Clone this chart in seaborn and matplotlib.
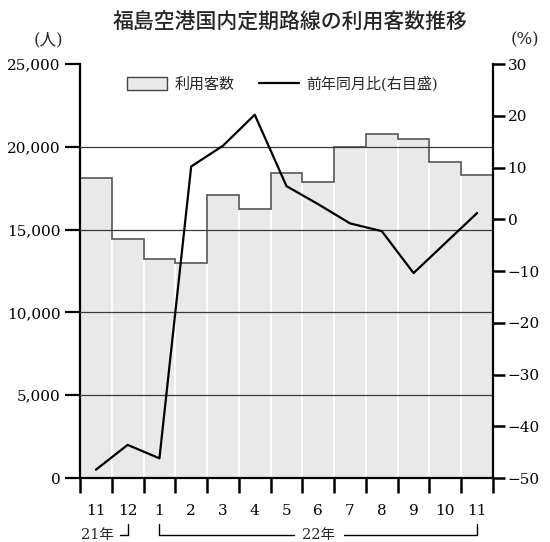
import numpy as np
import pandas as pd
import matplotlib
matplotlib.use('Agg')
import matplotlib.pyplot as plt
import seaborn as sns
from matplotlib.patches import Patch
from matplotlib.lines import Line2D

# data
periods = ['2021-11', '2021-12', '2022-01', '2022-02', '2022-03', '2022-04', '2022-05',
           '2022-06', '2022-07', '2022-08', '2022-09', '2022-10', '2022-11']
month_labels = ['11', '12', '1', '2', '3', '4', '5', '6', '7', '8', '9', '10', '11']
passengers = [18100, 14450, 13200, 13000, 17100, 16250, 18400, 17900, 20000, 20750, 20450, 19100, 18300]
yoy_pct = [-48.4, -43.6, -46.2, 10.2, 14.2, 20.2, 6.4, 2.9, -0.8, -2.3, -10.4, -4.6, 1.2]

left_ticks = [0, 5000, 10000, 15000, 20000, 25000]
right_ticks = [-50, -40, -30, -20, -10, 0, 10, 20, 30]

df = pd.DataFrame({'period': periods, 'passengers': passengers, 'yoy': yoy_pct})
df['pos'] = np.arange(len(df))

sns.set_theme(style='white')
plt.rcParams['font.family'] = ['DejaVu Serif', 'Noto Sans CJK JP']
plt.rcParams['axes.unicode_minus'] = True

fig = plt.figure(figsize=(5.5, 5.42), dpi=100)
ax = fig.add_axes([80 / 550, 1 - 478 / 542, 413 / 550, 414 / 542])

# bars: light grey with white separators, grey step outline on top
sns.barplot(data=df, x='period', y='passengers', order=periods, color='#e9e9e9',
            saturation=1, width=1, edgecolor='white', linewidth=1.2, ax=ax, zorder=1)
ax.stairs(df['passengers'], np.arange(len(df) + 1) - 0.5, baseline=None,
          color='#555555', lw=1.2, zorder=2.5)

for v in left_ticks[1:-1]:
    ax.axhline(v, color='#3a3a3a', lw=0.9, zorder=3)

ax.set_xlim(-0.5, len(df) - 0.5)
ax.set_ylim(0, 25000)
ax.set_yticks(left_ticks)
ax.set_yticklabels([f'{v:,}' for v in left_ticks])
ax.set_xticks(df['pos'])
ax.set_xticklabels(month_labels)
ax.set_xticks(np.arange(len(df) + 1) - 0.5, minor=True)
ax.set_xlabel('')
ax.set_ylabel('')
ax.tick_params(axis='y', length=11, width=1.6, direction='out', pad=3,
               labelsize=11, colors='black', left=True)
ax.tick_params(axis='x', which='major', length=0, pad=19, labelsize=11, colors='black')
ax.tick_params(axis='x', which='minor', length=11, width=1.8, direction='out',
               bottom=True, colors='black')
for s in ['top', 'right']:
    ax.spines[s].set_visible(False)
for s in ['left', 'bottom']:
    ax.spines[s].set_color('black')
    ax.spines[s].set_linewidth(1.6)

# year-on-year change on the right axis
ax2 = ax.twinx()
sns.lineplot(data=df, x='pos', y='yoy', color='black', lw=1.6, ax=ax2, zorder=4)
ax2.set_ylim(-50, 30)
ax2.set_xlim(-0.5, len(df) - 0.5)
ax2.set_yticks(right_ticks)
ax2.set_ylabel('')
ax2.tick_params(axis='y', length=8.5, width=1.8, direction='out', pad=2,
                labelsize=11, colors='black', right=True)
for s in ['top', 'left', 'bottom']:
    ax2.spines[s].set_visible(False)
ax2.spines['right'].set_color('black')
ax2.spines['right'].set_linewidth(1.6)

# legend
handles = [Patch(facecolor='#e9e9e9', edgecolor='#444444', lw=1),
           Line2D([], [], color='black', lw=1.6)]
ax2.legend(handles, ['利用客数', '前年同月比(右目盛)'], loc='center',
           bbox_to_anchor=(0.49, 0.952), ncol=2, frameon=False, fontsize=10.8,
           handlelength=2.7, handleheight=1.0, handletextpad=0.5, columnspacing=1.6)

# year brackets under the months
trans = ax.get_xaxis_transform()
by, ty = -0.137, -0.112
ax.plot([0.75, 1, 1], [by, by, ty], transform=trans, clip_on=False,
        color='black', lw=1)
ax.text(0.05, -0.138, '21年', transform=trans, ha='center', va='center', fontsize=10.5)
ax.plot([6.25, 2, 2], [by, by, ty], transform=trans, clip_on=False,
        color='black', lw=1)
ax.plot([7.8, 12, 12], [by, by, ty], transform=trans, clip_on=False,
        color='black', lw=1)
ax.text(7.0, -0.138, '22年', transform=trans, ha='center', va='center', fontsize=10.5)

# title and unit labels
fig.text(290 / 550, 1 - 22.5 / 542, '福島空港国内定期路線の利用客数推移', ha='center',
         va='center', fontsize=15, weight='medium',
         family=['Noto Sans CJK JP', 'DejaVu Sans'])
fig.text(48 / 550, 1 - 40 / 542, '(人)', ha='center', va='center', fontsize=12)
fig.text(525 / 550, 1 - 40 / 542, '(%)', ha='center', va='center', fontsize=12)

fig.savefig('out.png', dpi=100)
